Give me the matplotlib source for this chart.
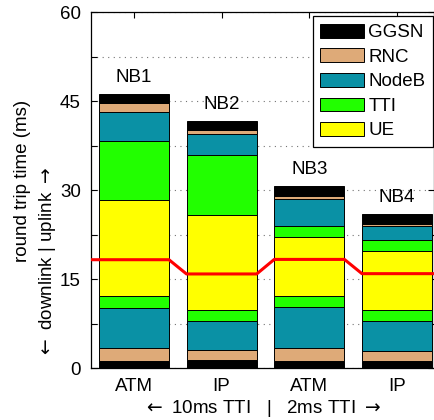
import matplotlib
matplotlib.use('Agg')
import matplotlib.pyplot as plt
import numpy as np

plt.rcParams['font.family'] = ['Liberation Sans', 'DejaVu Sans']
plt.rcParams['font.size'] = 13.5
plt.rcParams['mathtext.fontset'] = 'dejavusans'

# bars: NB1..NB4
bar_names = ['NB1', 'NB2', 'NB3', 'NB4']
tick_labels = ['ATM', 'IP', 'ATM', 'IP']
components = ['GGSN', 'RNC', 'NodeB', 'TTI', 'UE']
colors = ['#000000', '#DEAA78', '#0A91A5', '#22FF00', '#FFFF00']

# downlink part (bottom of the bar, from the bottom up)
ggsn_down = [1.25, 1.35, 1.25, 1.3]
rnc_down = [2.1, 1.7, 2.1, 1.7]
nodeb_down = [6.85, 4.85, 6.9, 4.95]
tti_down = [2.0, 2.0, 2.0, 1.95]
ue_down = [6.1, 6.0, 6.1, 6.05]

# uplink part (top of the bar, from the bottom up)
ue_up = [10.0, 10.0, 3.7, 3.75]
tti_up = [9.95, 10.05, 2.0, 2.0]
nodeb_up = [4.85, 3.55, 4.4, 2.2]
rnc_up = [1.6, 0.7, 0.6, 0.5]
ggsn_up = [1.5, 1.5, 1.65, 1.65]

down = [ggsn_down, rnc_down, nodeb_down, tti_down, ue_down]
up = [ue_up, tti_up, nodeb_up, rnc_up, ggsn_up]
up_colors = colors[::-1]

x = np.arange(1, 5)
width = 0.8

fig = plt.figure(figsize=(4.35, 4.2), dpi=100)
ax = fig.add_axes([0.2085, 0.123, 0.789, 0.848])
ax.set_axisbelow(True)

bottom = np.zeros(4)
for vals, c, name in zip(down, colors, components):
    ax.bar(x, vals, width, bottom=bottom, color=c, edgecolor='k', linewidth=0.7, label=name)
    bottom += np.array(vals)
split = bottom.copy()
for vals, c in zip(up, up_colors):
    ax.bar(x, vals, width, bottom=bottom, color=c, edgecolor='k', linewidth=0.7)
    bottom += np.array(vals)

# bar names above
for xi, top, name in zip(x, bottom, bar_names):
    ax.annotate(name, (xi, top), xytext=(0, 12), textcoords='offset points',
                ha='center', va='center')

xlim = (0.508, 4.42)
# red downlink/uplink separator
lx = np.ravel(np.column_stack([x - width / 2, x + width / 2]))
lx[0], lx[-1] = xlim
ly = np.repeat(split, 2)
ax.plot(lx, ly, color='red', linewidth=2.2, zorder=5)

ax.set_xlim(*xlim)
ax.set_ylim(0, 60)
yt = np.arange(0, 60.1, 7.5)
ax.set_yticks(yt)
ax.set_yticklabels([f'{v:g}' if v % 15 == 0 else '' for v in yt])
ax.set_xticks(x)
ax.set_xticklabels(tick_labels)
ax.tick_params(direction='in', length=4, width=0.8, top=True, right=True, pad=7)
ax.yaxis.grid(True, color='0.45', linestyle=(0, (1, 4)), linewidth=0.8)
for s in ax.spines.values():
    s.set_linewidth(0.9)

ax.set_xlabel(r'$\leftarrow$ 10ms TTI   |   2ms TTI $\rightarrow$', labelpad=2)
fig.text(0.052, 0.569, 'round trip time (ms)', rotation=90, ha='center', va='center')
fig.text(0.110, 0.374, r'$\leftarrow$ downlink | uplink $\rightarrow$', rotation=90,
         ha='center', va='center')

leg = ax.legend(loc='upper right', bbox_to_anchor=(0.997, 0.988), borderaxespad=0,
                fancybox=False, edgecolor='k', framealpha=1, fontsize=13.5,
                handlelength=2.3, handleheight=0.75, handletextpad=0.25,
                labelspacing=0.38, borderpad=0.4)
leg.get_frame().set_linewidth(0.9)

fig.savefig('out.png', dpi=100)
